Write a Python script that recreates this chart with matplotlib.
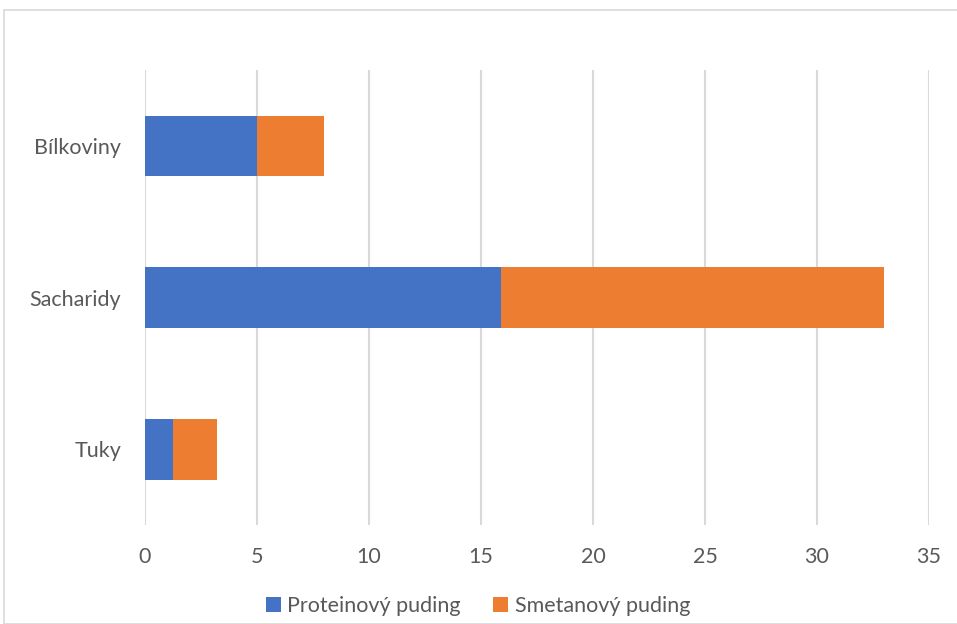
import numpy as np
import matplotlib.pyplot as plt
from matplotlib.patches import Rectangle

categories = ['Tuky', 'Sacharidy', 'Bílkoviny']
proteinovy = [1.25, 15.9, 5.0]
smetanovy = [1.95, 17.1, 3.0]
series_names = ['Proteinový puding', 'Smetanový puding']
xticks = [0, 5, 10, 15, 20, 25, 30, 35]

plt.rcParams['font.family'] = ['Lato', 'DejaVu Sans']

fig = plt.figure(figsize=(9.57, 6.24), dpi=100)
W, H = 957, 624
# plot area in pixels: x 145..929, y 70..525
ax = fig.add_axes([145 / W, 1 - 525 / H, (929 - 145) / W, (525 - 70) / H])

y = np.arange(len(categories))
blue = '#4472c4'
orange = '#ed7d31'
ax.barh(y, proteinovy, height=0.4, color=blue, label=series_names[0], zorder=3)
ax.barh(y, smetanovy, left=proteinovy, height=0.4, color=orange,
        label=series_names[1], zorder=3)

ax.set_xlim(0, 35)
ax.set_ylim(-0.5, len(categories) - 0.5)
ax.set_xticks(xticks)
ax.set_yticks(y)
ax.set_yticklabels(categories)
ax.xaxis.grid(True, color='#d9d9d9', linewidth=1.5, zorder=0)
ax.tick_params(axis='both', length=0, labelsize=15.5, colors='#595959')
ax.tick_params(axis='x', pad=16)
ax.tick_params(axis='y', pad=17)
for s in ax.spines.values():
    s.set_visible(False)

leg = fig.legend(loc='center', bbox_to_anchor=(478 / W, 1 - 606 / H), ncol=2,
                 frameon=False, fontsize=15.5, handlelength=0.7, handleheight=0.7,
                 handletextpad=0.3, columnspacing=1.5)
for t in leg.get_texts():
    t.set_color('#595959')

# chart border (only left and top edges visible in the crop)
fig.patches.append(Rectangle((4 / W, 0), 1.2, 1 - 10 / H, transform=fig.transFigure,
                             fill=False, edgecolor='#d9d9d9', linewidth=1.2))

fig.savefig('out.png', dpi=100)
